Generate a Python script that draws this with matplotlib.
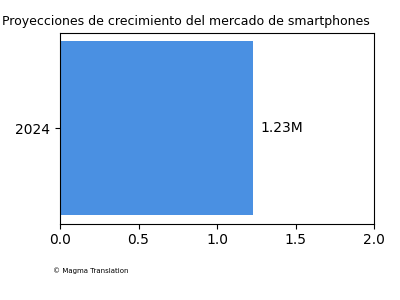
import matplotlib
matplotlib.use("Agg")
import matplotlib.pyplot as plt

categories = ["2024"]
values = [1.23]
labels = ["1.23M"]
xticks = [0.0, 0.5, 1.0, 1.5, 2.0]

fig = plt.figure(figsize=(4, 3), dpi=100)
ax = fig.add_axes([0.15, 0.255, 0.785, 0.636])
bars = ax.barh(categories, values, color="#4a90e2", height=0.8)
ax.bar_label(bars, labels=labels, padding=5, fontsize=10)
ax.set_xlim(0, 2.0)
ax.set_xticks(xticks)
ax.tick_params(labelsize=10)
fig.text(0.005, 0.917, "Proyecciones de crecimiento del mercado de smartphones",
         fontsize=9, ha="left", va="baseline")
fig.text(0.133, 0.089, "© Magma Translation", fontsize=5, ha="left", va="baseline")
fig.savefig("out.png", dpi=100)
